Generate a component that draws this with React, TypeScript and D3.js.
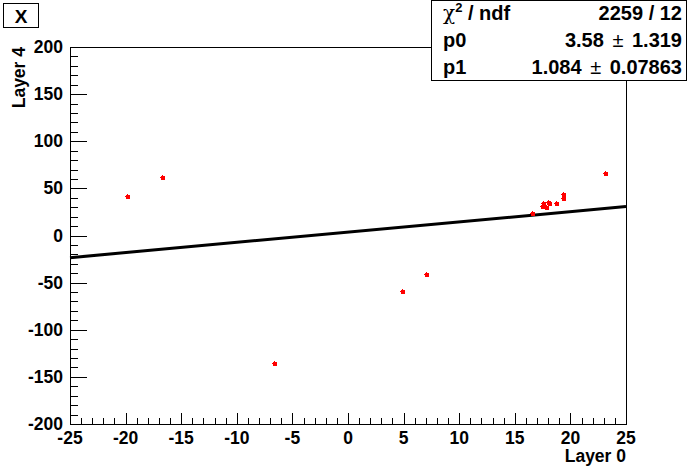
import React, { useEffect, useRef } from "react";
import * as d3 from "d3";

// scatter points (Layer 0 vs Layer 4)
const layer0 = [-19.87, -16.73, -6.65, 4.86, 7.01, 16.52, 17.45, 17.56, 17.81, 18.01, 18.1, 18.71, 19.36, 19.36, 23.11];
const layer4 = [41.9, 62.1, -135.3, -58.9, -40.8, 24.2, 31.3, 34.2, 29.9, 35.9, 34.2, 34.2, 43.7, 39.5, 66.3];

// pol1 fit result
const fitParams = [3.58, 1.084];
const statNames = ["χ² / ndf", "p0", "p1"];
const statValues = ["2259 / 12", "3.58 ± 1.319", "1.084 ± 0.07863"];

const xTicks = [-25, -20, -15, -10, -5, 0, 5, 10, 15, 20, 25];
const yTicks = [-200, -150, -100, -50, 0, 50, 100, 150, 200];

const App = () => {
  const ref = useRef<SVGSVGElement>(null);

  useEffect(() => {
    const W = 696,
      H = 472;
    const frame = { left: 70, right: 626, top: 47, bottom: 424 };
    const font = "'Liberation Sans', Arial, Helvetica, sans-serif";
    const axisSize = 17.5;
    const statSize = 20;

    const svg = d3.select(ref.current);
    svg.selectAll("*").remove();

    svg.append("rect").attr("width", W).attr("height", H).attr("fill", "#fff");

    const x = d3.scaleLinear().domain([-25, 25]).range([frame.left, frame.right]);
    const y = d3.scaleLinear().domain([-200, 200]).range([frame.bottom, frame.top]);

    // frame
    svg
      .append("rect")
      .attr("x", frame.left + 0.5)
      .attr("y", frame.top + 0.5)
      .attr("width", frame.right - frame.left)
      .attr("height", frame.bottom - frame.top)
      .attr("fill", "none")
      .attr("stroke", "#000")
      .attr("stroke-width", 1);

    // x axis ticks (inside, pointing up)
    const xMinor = d3.range(-25, 25.01, 1);
    svg
      .append("g")
      .selectAll("line")
      .data(xMinor)
      .join("line")
      .attr("x1", (d) => Math.round(x(d)) + 0.5)
      .attr("x2", (d) => Math.round(x(d)) + 0.5)
      .attr("y1", frame.bottom)
      .attr("y2", (d) => frame.bottom - (d % 5 === 0 ? 11 : 6))
      .attr("stroke", "#000");

    svg
      .append("g")
      .selectAll("text")
      .data(xTicks)
      .join("text")
      .attr("x", (d) => x(d))
      .attr("y", 444)
      .attr("text-anchor", "middle")
      .attr("font-family", font)
      .attr("font-weight", "bold")
      .attr("font-size", axisSize)
      .text((d) => d);

    // y axis ticks (inside, pointing right)
    const yMinor = d3.range(-200, 200.01, 10);
    svg
      .append("g")
      .selectAll("line")
      .data(yMinor)
      .join("line")
      .attr("y1", (d) => Math.round(y(d)) + 0.5)
      .attr("y2", (d) => Math.round(y(d)) + 0.5)
      .attr("x1", frame.left)
      .attr("x2", (d) => frame.left + (d % 50 === 0 ? 17 : 8))
      .attr("stroke", "#000");

    svg
      .append("g")
      .selectAll("text")
      .data(yTicks)
      .join("text")
      .attr("x", 63)
      .attr("y", (d) => y(d) + 6)
      .attr("text-anchor", "end")
      .attr("font-family", font)
      .attr("font-weight", "bold")
      .attr("font-size", axisSize)
      .text((d) => d);

    // axis titles
    svg
      .append("text")
      .attr("x", frame.right)
      .attr("y", 462)
      .attr("text-anchor", "end")
      .attr("font-family", font)
      .attr("font-weight", "bold")
      .attr("font-size", axisSize)
      .text("Layer 0");

    svg
      .append("text")
      .attr("transform", `translate(25,${frame.top}) rotate(-90)`)
      .attr("text-anchor", "end")
      .attr("font-family", font)
      .attr("font-weight", "bold")
      .attr("font-size", axisSize)
      .text("Layer 4");

    // fit line
    const f = (v: number) => fitParams[0] + fitParams[1] * v;
    const line = d3
      .line<number>()
      .x((d) => x(d))
      .y((d) => y(f(d)));
    svg
      .append("path")
      .datum(x.domain())
      .attr("d", line)
      .attr("stroke", "#000")
      .attr("stroke-width", 3)
      .attr("fill", "none");

    // markers
    const pts = layer0.map((v, i) => [v, layer4[i]]);
    const g = svg.append("g").attr("fill", "#ff0000");
    g.selectAll("rect.c")
      .data(pts)
      .join("rect")
      .attr("class", "c")
      .attr("x", (d) => Math.round(x(d[0])) - 1)
      .attr("y", (d) => Math.round(y(d[1])) - 1)
      .attr("width", 4)
      .attr("height", 4);
    g.selectAll("rect.h")
      .data(pts)
      .join("rect")
      .attr("class", "h")
      .attr("x", (d) => Math.round(x(d[0])) - 2)
      .attr("y", (d) => Math.round(y(d[1])))
      .attr("width", 2)
      .attr("height", 1);
    g.selectAll("rect.v")
      .data(pts)
      .join("rect")
      .attr("class", "v")
      .attr("x", (d) => Math.round(x(d[0])))
      .attr("y", (d) => Math.round(y(d[1])) - 2)
      .attr("width", 1)
      .attr("height", 2);

    // title box
    svg
      .append("rect")
      .attr("x", 3.5)
      .attr("y", 3.5)
      .attr("width", 35)
      .attr("height", 24)
      .attr("fill", "#fff")
      .attr("stroke", "#000");
    svg
      .append("text")
      .attr("x", 21)
      .attr("y", 22.5)
      .attr("text-anchor", "middle")
      .attr("font-family", font)
      .attr("font-weight", "bold")
      .attr("font-size", 19)
      .text("X");

    // stats box
    const sb = { x: 431, y: 0, w: 255, h: 80 };
    svg
      .append("rect")
      .attr("x", sb.x + 0.5)
      .attr("y", sb.y + 0.5)
      .attr("width", sb.w)
      .attr("height", sb.h)
      .attr("fill", "#fff")
      .attr("stroke", "#000");
    const rowH = sb.h / statNames.length;
    statNames.forEach((name, i) => {
      const yy = sb.y + rowH * i + rowH / 2 + 7;
      const t = svg
        .append("text")
        .attr("x", sb.x + 12)
        .attr("y", yy)
        .attr("font-family", font)
        .attr("font-weight", "bold")
        .attr("font-size", statSize);
      if (name.startsWith("χ")) {
        t.append("tspan").attr("font-weight", "normal").attr("font-family", "'DejaVu Serif', serif").text("χ");
        t.append("tspan").attr("font-size", 13).attr("dy", -8).text("2");
        t.append("tspan").attr("dy", 8).text(" / ndf");
      } else {
        t.text(name);
      }
      const vt = svg
        .append("text")
        .attr("x", sb.x + sb.w - 4)
        .attr("y", yy)
        .attr("text-anchor", "end")
        .attr("font-family", font)
        .attr("font-weight", "bold")
        .attr("font-size", statSize);
      const parts = statValues[i].split(" ± ");
      if (parts.length === 2) {
        vt.append("tspan").text(parts[0] + " ");
        vt.append("tspan").attr("font-weight", "normal").attr("dx", 3).text("±");
        vt.append("tspan").attr("dx", 3).text(" " + parts[1]);
      } else {
        vt.text(statValues[i]);
      }
    });
  }, []);

  return (
    <svg
      ref={ref}
      width={696}
      height={472}
      style={{ display: "block", position: "absolute", left: 0, top: 0 }}
    />
  );
};

export default App;
